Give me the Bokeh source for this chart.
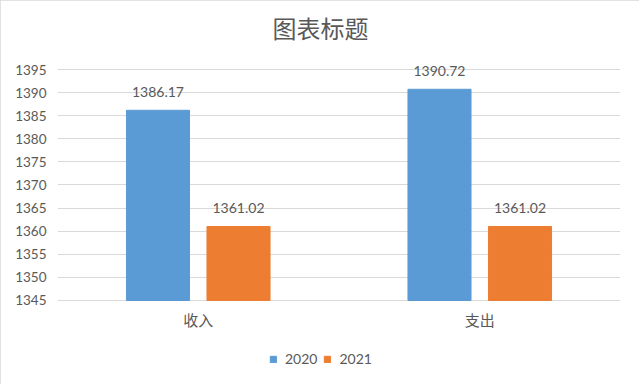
from bokeh.plotting import figure
from bokeh.models import ColumnDataSource, FactorRange, Range1d, LabelSet, Legend, LegendItem, FixedTicker
from bokeh.transform import dodge
from bokeh.core.properties import value
from bokeh.embed import file_html
from bokeh.resources import INLINE

categories = ["收入", "支出"]
series_names = ["2020", "2021"]
values_2020 = [1386.17, 1390.72]
values_2021 = [1361.02, 1361.02]
y_ticks = [1345, 1350, 1355, 1360, 1365, 1370, 1375, 1380, 1385, 1390, 1395]

colors = ["#5B9BD5", "#ED7D31"]
text_color = "#595959"
grid_color = "#D9D9D9"

y_min = y_ticks[0]
px_per_unit = 4.62
y_lo, y_hi = 1327.68, 1398.68

src = ColumnDataSource(dict(
    cat=categories,
    v2020=values_2020,
    v2021=values_2021,
    l2020=[f"{v:.2f}" for v in values_2020],
    l2021=[f"{v:.2f}" for v in values_2021],
    base=[y_min] * len(categories),
))

p = figure(
    x_range=FactorRange(*categories),
    y_range=Range1d(y_lo, y_hi),
    frame_width=563, frame_height=int(round((y_hi - y_lo) * px_per_unit)),
    output_backend="svg", toolbar_location=None,
    min_border_left=57, min_border_right=19,
    min_border_top=52, min_border_bottom=4,
    title="图表标题",
)
p.styles = {"outline": "1px solid #D9D9D9", "outline-offset": "-1px"}

p.title.align = "left"
p.title.offset = 215
p.title.text_font = "Noto Sans CJK SC"
p.title.text_font_size = "24px"
p.title.text_font_style = "normal"
p.title.text_color = text_color
p.title.standoff = 15

p.outline_line_color = None
p.xgrid.grid_line_color = None
p.ygrid.grid_line_color = grid_color
p.ygrid.grid_line_width = 1

p.yaxis.ticker = FixedTicker(ticks=y_ticks)
p.yaxis.axis_line_color = None
p.yaxis.major_tick_line_color = None
p.yaxis.minor_tick_line_color = None
p.yaxis.major_tick_out = 0
p.yaxis.major_label_standoff = 11
p.yaxis.major_label_text_font = "Lato"
p.yaxis.major_label_text_font_size = "13.5px"
p.yaxis.major_label_text_color = text_color

p.xaxis.visible = False

off = 0.143
bw = 0.224
r1 = p.vbar(x=dodge("cat", -off, range=p.x_range), top="v2020", bottom="base",
            width=bw, source=src, fill_color=colors[0], line_color=colors[0])
r2 = p.vbar(x=dodge("cat", off, range=p.x_range), top="v2021", bottom="base",
            width=bw, source=src, fill_color=colors[1], line_color=colors[1])

for field, lab, o in (("v2020", "l2020", -off), ("v2021", "l2021", off)):
    ls = LabelSet(x=dodge("cat", o, range=p.x_range), y=field, text=lab, source=src,
                  text_align="center", text_baseline="middle", y_offset=18,
                  text_font=value("Lato"), text_font_size="14px", text_color=text_color)
    p.add_layout(ls)

# category labels under the baseline
cat_labels = LabelSet(x="cat", y="base", text="cat", source=src,
                      text_align="center", text_baseline="middle", y_offset=-19,
                      text_font=value("Noto Sans CJK SC"), text_font_size="15px",
                      text_color=text_color)
p.add_layout(cat_labels)

legend = Legend(items=[LegendItem(label=series_names[0], renderers=[r1]),
                       LegendItem(label=series_names[1], renderers=[r2])],
                orientation="horizontal", location=(212, 13))
legend.border_line_color = None
legend.background_fill_alpha = 0
legend.glyph_width = 8
legend.glyph_height = 8
legend.label_standoff = 8
legend.spacing = 6
legend.padding = 0
legend.margin = 0
legend.label_text_font = "Lato"
legend.label_text_font_size = "14px"
legend.label_text_color = text_color
p.add_layout(legend)

open("out.html", "w").write(file_html(p, INLINE))
